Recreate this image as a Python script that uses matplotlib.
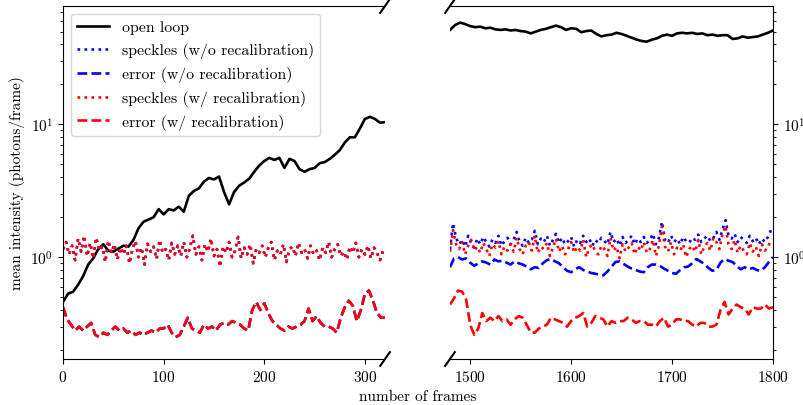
import matplotlib
matplotlib.use("Agg")
import matplotlib.pyplot as plt
import numpy as np

plt.rcParams['font.family'] = 'serif'
plt.rcParams['font.serif'] = ['cmr10']
plt.rcParams['mathtext.fontset'] = 'cm'
plt.rcParams['axes.formatter.use_mathtext'] = True
plt.rcParams['font.size'] = 11

# frames for each series (left = first part, right = last part)
ol_frames_l = np.arange(0, 321, 5)
ol_frames_r = np.arange(1480, 1801, 5)
err_frames_l = np.arange(0, 321, 4)
err_frames_r = np.arange(1480, 1801, 4)
sp_frames_l = np.arange(0, 319, 3)
sp_frames_r = np.arange(1480, 1799, 3)

# open loop
open_loop_l = [0.46, 0.53, 0.55, 0.62, 0.72, 0.88, 0.98, 1.15, 1.25, 1.12,
               1.10, 1.16, 1.22, 1.20, 1.35, 1.65, 1.85, 1.92, 2.0, 2.3,
               2.1, 2.3, 2.25, 2.4, 2.2, 2.9, 3.15, 3.3, 3.7, 3.95,
               3.85, 4.05, 3.1, 2.5, 3.1, 3.45, 3.65, 3.9, 4.4, 4.9,
               5.3, 5.6, 5.4, 5.6, 4.7, 5.5, 5.3, 4.6, 4.4, 4.6,
               4.7, 5.1, 5.2, 5.5, 5.9, 6.4, 7.3, 8.0, 8.0, 9.3,
               11.0, 11.4, 11.0, 10.3, 10.4]
open_loop_r = [51.5, 56, 58.5, 57, 55, 54, 54.5, 53, 53.5, 52,
               51.5, 52, 51, 51.5, 50.5, 50, 48.5, 50, 51.5, 52.5,
               54, 55.5, 54, 51.5, 53, 52.5, 49.5, 50.5, 51, 48,
               46, 47, 47.5, 49, 48, 46.5, 45, 43.5, 42.5, 42,
               43.5, 44.5, 46.5, 47.5, 46.5, 48.5, 49, 48.5, 49, 48,
               48.5, 47, 47.5, 46.5, 47, 47, 44, 44.5, 46, 45,
               45.5, 46, 47.5, 49, 51]

# speckles, first part (identical with and without recalibration)
speckles_l = [1.15, 1.30, 1.05, 1.22, 0.95, 1.38, 1.10, 1.45, 1.02, 1.28,
              0.98, 1.40, 1.12, 1.20, 0.92, 1.33, 1.08, 1.25, 0.96, 1.18,
              1.05, 1.22, 0.90, 1.15, 1.32, 1.00, 1.18, 0.88, 1.26, 1.10,
              1.20, 0.97, 1.35, 1.08, 1.15, 0.95, 1.28, 1.05, 1.22, 1.02,
              1.30, 1.00, 1.17, 1.45, 1.05, 1.20, 0.95, 1.25, 1.10, 1.38,
              1.02, 1.15, 0.85, 1.20, 1.08, 1.30, 1.00, 1.12, 1.42, 0.98,
              1.18, 1.05, 1.25, 0.90, 1.15, 1.08, 1.22, 1.00, 1.18, 1.30,
              0.95, 1.12, 1.05, 1.25, 0.92, 1.15, 1.20, 1.02, 1.28, 1.08,
              1.15, 0.98, 1.22, 1.05, 1.12, 0.95, 1.18, 1.08, 1.30, 1.00,
              1.15, 1.25, 1.02, 1.10, 0.96, 1.20, 1.08, 1.28, 1.00, 1.15,
              1.05, 1.22, 0.98, 1.18, 1.08, 0.95, 1.12]
speckles_norecal_r = [1.15, 1.80, 1.40, 1.25, 1.35, 1.20, 1.45, 1.28, 1.18, 1.38,
                      1.25, 1.42, 1.30, 1.20, 1.36, 1.28, 1.45, 1.22, 1.32, 1.40,
                      1.25, 1.35, 1.55, 1.30, 1.22, 1.40, 1.28, 1.35, 1.58, 1.25,
                      1.38, 1.30, 1.45, 1.22, 1.35, 1.50, 1.28, 1.40, 1.25, 1.32,
                      1.42, 1.20, 1.35, 1.28, 1.45, 1.30, 1.38, 1.22, 1.35, 1.28,
                      1.40, 1.32, 1.25, 1.55, 1.30, 1.38, 1.22, 1.42, 1.28, 1.35,
                      1.45, 1.25, 1.38, 1.30, 1.42, 1.28, 1.35, 1.50, 1.25, 1.40,
                      1.85, 1.35, 1.28, 1.45, 1.30, 1.38, 1.25, 1.42, 1.32, 1.28,
                      1.40, 1.35, 1.48, 1.30, 1.38, 1.45, 1.32, 1.40, 1.55, 1.35,
                      1.62, 1.90, 1.45, 1.38, 1.50, 1.30, 1.42, 1.35, 1.28, 1.45,
                      1.32, 1.40, 1.25, 1.38, 1.30, 1.42, 1.60]
speckles_recal_r = [1.10, 1.60, 1.25, 1.15, 1.30, 1.05, 1.22, 1.35, 1.12, 1.20,
                    1.08, 1.28, 1.15, 1.02, 1.25, 1.18, 1.32, 1.05, 1.20, 1.12,
                    1.25, 1.10, 1.40, 1.15, 1.05, 1.22, 1.30, 1.12, 1.45, 1.08,
                    1.20, 1.15, 1.28, 1.02, 1.18, 1.38, 1.10, 1.22, 1.05, 1.15,
                    1.30, 1.08, 1.20, 1.12, 1.35, 1.00, 1.18, 1.25, 1.10, 1.05,
                    1.22, 1.15, 1.02, 1.40, 1.12, 1.20, 0.98, 1.25, 1.10, 1.18,
                    1.28, 1.05, 1.20, 1.12, 1.30, 1.08, 1.15, 1.35, 1.02, 1.22,
                    1.70, 1.20, 1.10, 1.30, 1.05, 1.18, 1.12, 1.25, 1.00, 1.15,
                    1.22, 1.10, 1.35, 1.05, 1.20, 1.28, 1.12, 1.40, 1.30, 1.15,
                    1.50, 1.72, 1.25, 1.15, 1.35, 1.08, 1.22, 1.12, 1.05, 1.28,
                    1.10, 1.20, 1.02, 1.25, 1.12, 1.18, 1.38]

# residual error, first part (identical with and without recalibration)
error_l = [0.42, 0.34, 0.31, 0.28, 0.30, 0.28, 0.30, 0.32, 0.26, 0.25,
           0.27, 0.26, 0.28, 0.30, 0.28, 0.29, 0.27, 0.28, 0.26, 0.27,
           0.26, 0.27, 0.28, 0.27, 0.29, 0.29, 0.31, 0.27, 0.25, 0.26,
           0.30, 0.35, 0.29, 0.28, 0.27, 0.31, 0.29, 0.30, 0.28, 0.31,
           0.32, 0.31, 0.33, 0.32, 0.31, 0.29, 0.28, 0.40, 0.46, 0.40,
           0.45, 0.38, 0.33, 0.31, 0.29, 0.28, 0.30, 0.29, 0.30, 0.31,
           0.33, 0.41, 0.33, 0.36, 0.32, 0.30, 0.30, 0.29, 0.27, 0.35,
           0.42, 0.47, 0.43, 0.33, 0.40, 0.53, 0.56, 0.47, 0.38, 0.35,
           0.35]
error_norecal_r = [0.84, 0.98, 1.0, 0.96, 0.98, 0.91, 0.86, 0.90, 0.93, 0.91,
                   0.88, 0.96, 0.93, 0.94, 0.91, 0.88, 0.93, 0.90, 0.88, 0.85,
                   0.81, 0.84, 0.83, 0.90, 0.95, 0.97, 0.93, 0.90, 0.84, 0.79,
                   0.77, 0.81, 0.84, 0.80, 0.78, 0.76, 0.75, 0.74, 0.73, 0.78,
                   0.85, 0.92, 0.93, 0.89, 0.85, 0.82, 0.80, 0.78, 0.77, 0.84,
                   0.88, 0.88, 0.86, 0.82, 0.79, 0.76, 0.75, 0.80, 0.84, 0.85,
                   0.90, 0.97, 0.93, 0.89, 0.83, 0.79, 0.80, 0.91, 0.97, 0.94,
                   0.92, 0.86, 0.81, 0.84, 0.81, 0.83, 0.80, 0.79, 0.84, 0.92,
                   1.0]
error_recal_r = [0.44, 0.49, 0.56, 0.55, 0.48, 0.31, 0.26, 0.29, 0.38, 0.33,
                 0.35, 0.33, 0.36, 0.33, 0.34, 0.31, 0.34, 0.36, 0.35, 0.31,
                 0.27, 0.27, 0.29, 0.30, 0.31, 0.35, 0.34, 0.33, 0.32, 0.30,
                 0.33, 0.35, 0.36, 0.38, 0.30, 0.32, 0.36, 0.35, 0.34, 0.30,
                 0.33, 0.32, 0.33, 0.33, 0.35, 0.34, 0.32, 0.33, 0.33, 0.31,
                 0.31, 0.30, 0.33, 0.35, 0.30, 0.31, 0.34, 0.34, 0.33, 0.33,
                 0.31, 0.30, 0.32, 0.32, 0.30, 0.30, 0.31, 0.40, 0.46, 0.37,
                 0.41, 0.44, 0.42, 0.41, 0.37, 0.42, 0.41, 0.41, 0.44, 0.41,
                 0.42]

lw = 1.9
fig = plt.figure(figsize=(8.04, 4.06), dpi=100)
ax1 = fig.add_axes([0.0784, 0.1133, 0.4005, 0.8695])
ax2 = fig.add_axes([0.5597, 0.1133, 0.4017, 0.8695], sharey=ax1)

# left part
ax1.plot(ol_frames_l, open_loop_l, 'k-', lw=lw, label='open loop')
ax1.plot(sp_frames_l, speckles_l, color='b', ls=':', lw=lw, label='speckles (w/o recalibration)')
ax1.plot(err_frames_l, error_l, color='b', ls='--', lw=lw, label='error (w/o recalibration)')
ax1.plot(sp_frames_l, speckles_l, color='r', ls=':', lw=lw, label='speckles (w/ recalibration)')
ax1.plot(err_frames_l, error_l, color='r', ls='--', lw=lw, label='error (w/ recalibration)')

# right part
ax2.plot(ol_frames_r, open_loop_r, 'k-', lw=lw)
ax2.plot(sp_frames_r, speckles_norecal_r, color='b', ls=':', lw=lw)
ax2.plot(err_frames_r, error_norecal_r, color='b', ls='--', lw=lw)
ax2.plot(sp_frames_r, speckles_recal_r, color='r', ls=':', lw=lw)
ax2.plot(err_frames_r, error_recal_r, color='r', ls='--', lw=lw)

ax1.set_yscale('log')
ax1.set_ylim(0.171, 78)
ax1.set_xlim(0, 320)
ax2.set_xlim(1480, 1800)
ax1.set_xticks([0, 100, 200, 300])
ax2.set_xticks([1500, 1600, 1700, 1800])

ax1.spines['right'].set_visible(False)
ax2.spines['left'].set_visible(False)
ax1.yaxis.tick_left()
ax2.yaxis.tick_right()
ax2.tick_params(axis='y', which='both', labelright=True, labelleft=False)

# break marks
d = 0.015
kw = dict(transform=ax1.transAxes, color='k', clip_on=False, lw=1.5)
ax1.plot((1 - d, 1 + d), (-1.3 * d, 1.3 * d), **kw)
ax1.plot((1 - d, 1 + d), (1 - 1.3 * d, 1 + 1.3 * d), **kw)
kw.update(transform=ax2.transAxes)
ax2.plot((-d, d), (-1.3 * d, 1.3 * d), **kw)
ax2.plot((-d, d), (1 - 1.3 * d, 1 + 1.3 * d), **kw)

ax1.set_ylabel('mean intensity (photons/frame)')
fig.text(0.52, 0.005, 'number of frames', ha='center', va='bottom')

ax1.legend(loc='upper left', fontsize=11.4)

fig.savefig('out.png', dpi=100)
